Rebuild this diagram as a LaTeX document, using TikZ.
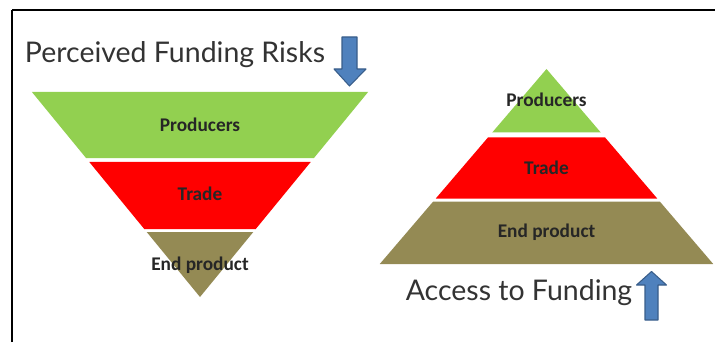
\documentclass[tikz,border=0pt]{standalone}
\usepackage{fontspec}
\setmainfont{Carlito}
\newfontfamily\titlefont{Lato}
\usetikzlibrary{positioning}
\definecolor{prodgreen}{HTML}{92D050}
\definecolor{tradered}{HTML}{FF0000}
\definecolor{endolive}{HTML}{948A54}
\definecolor{arrowblue}{HTML}{4F81BD}
\definecolor{arrowedge}{HTML}{385D8A}

\begin{document}
\begin{tikzpicture}[
    band/.style={font=\bfseries\fontsize{11}{13}\selectfont, text=black!85},
    caption/.style={font=\titlefont\fontsize{16.2}{19}\selectfont, text=black!80},
    blockarrow/.style={fill=arrowblue, draw=arrowedge, line width=0.6pt, line join=round}
  ]
        \useasboundingbox (0,0) rectangle (14.3,6.84);
        % Frame (top and left only)
        \draw[line width=1.2pt] (0.24,0) -- (0.24,6.64);
        \draw[line width=0.7pt] (0.24,6.64) -- (14.3,6.64);

        % Inverted pyramid, apex at (4.00,0.90)
        \foreach \lo/\hi/\col in {
          0.90/2.20/endolive,
          2.26/3.60/tradered,
          3.68/5.00/prodgreen} {
          \fill[fill=\col] ({4.00-0.82*(\lo-0.90)},\lo) -- ({4.00-0.82*(\hi-0.90)},\hi)
            -- ({4.00+0.82*(\hi-0.90)},\hi) -- ({4.00+0.82*(\lo-0.90)},\lo) -- cycle;
        }
        \node[band] (riskprod) at (4.00,4.35) {Producers};
        \node[band] (risktrade) at (4.00,2.97) {Trade};
        \node[band] (riskend) at (4.00,1.53) {End product};

        % Upright pyramid, apex at (10.93,5.46)
        \foreach \lo/\hi/\col in {
          1.56/2.81/endolive,
          2.87/4.09/tradered,
          4.19/5.46/prodgreen} {
          \fill[fill=\col] ({10.93-0.855*(5.46-\lo)},\lo) -- ({10.93-0.855*(5.46-\hi)},\hi)
            -- ({10.93+0.855*(5.46-\hi)},\hi) -- ({10.93+0.855*(5.46-\lo)},\lo) -- cycle;
        }
        \node[band] (accprod) at (10.93,4.84) {Producers};
        \node[band] (acctrade) at (10.93,3.48) {Trade};
        \node[band] (accend) at (10.93,2.19) {End product};

        % Captions
        \node[caption] (risks) at (3.50,5.74) {Perceived Funding Risks};
        \node[caption] (access) at (10.38,0.98) {Access to Funding};

        % Block arrows
        \filldraw[blockarrow] (6.84,6.10) -- (7.14,6.10) -- (7.14,5.46) -- (7.32,5.46)
          -- (6.99,5.12) -- (6.68,5.46) -- (6.84,5.46) -- cycle;
        \filldraw[blockarrow] (12.90,0.44) -- (13.16,0.44) -- (13.16,1.14) -- (13.33,1.14)
          -- (13.03,1.41) -- (12.73,1.14) -- (12.90,1.14) -- cycle;
      \end{tikzpicture}
\end{document}
